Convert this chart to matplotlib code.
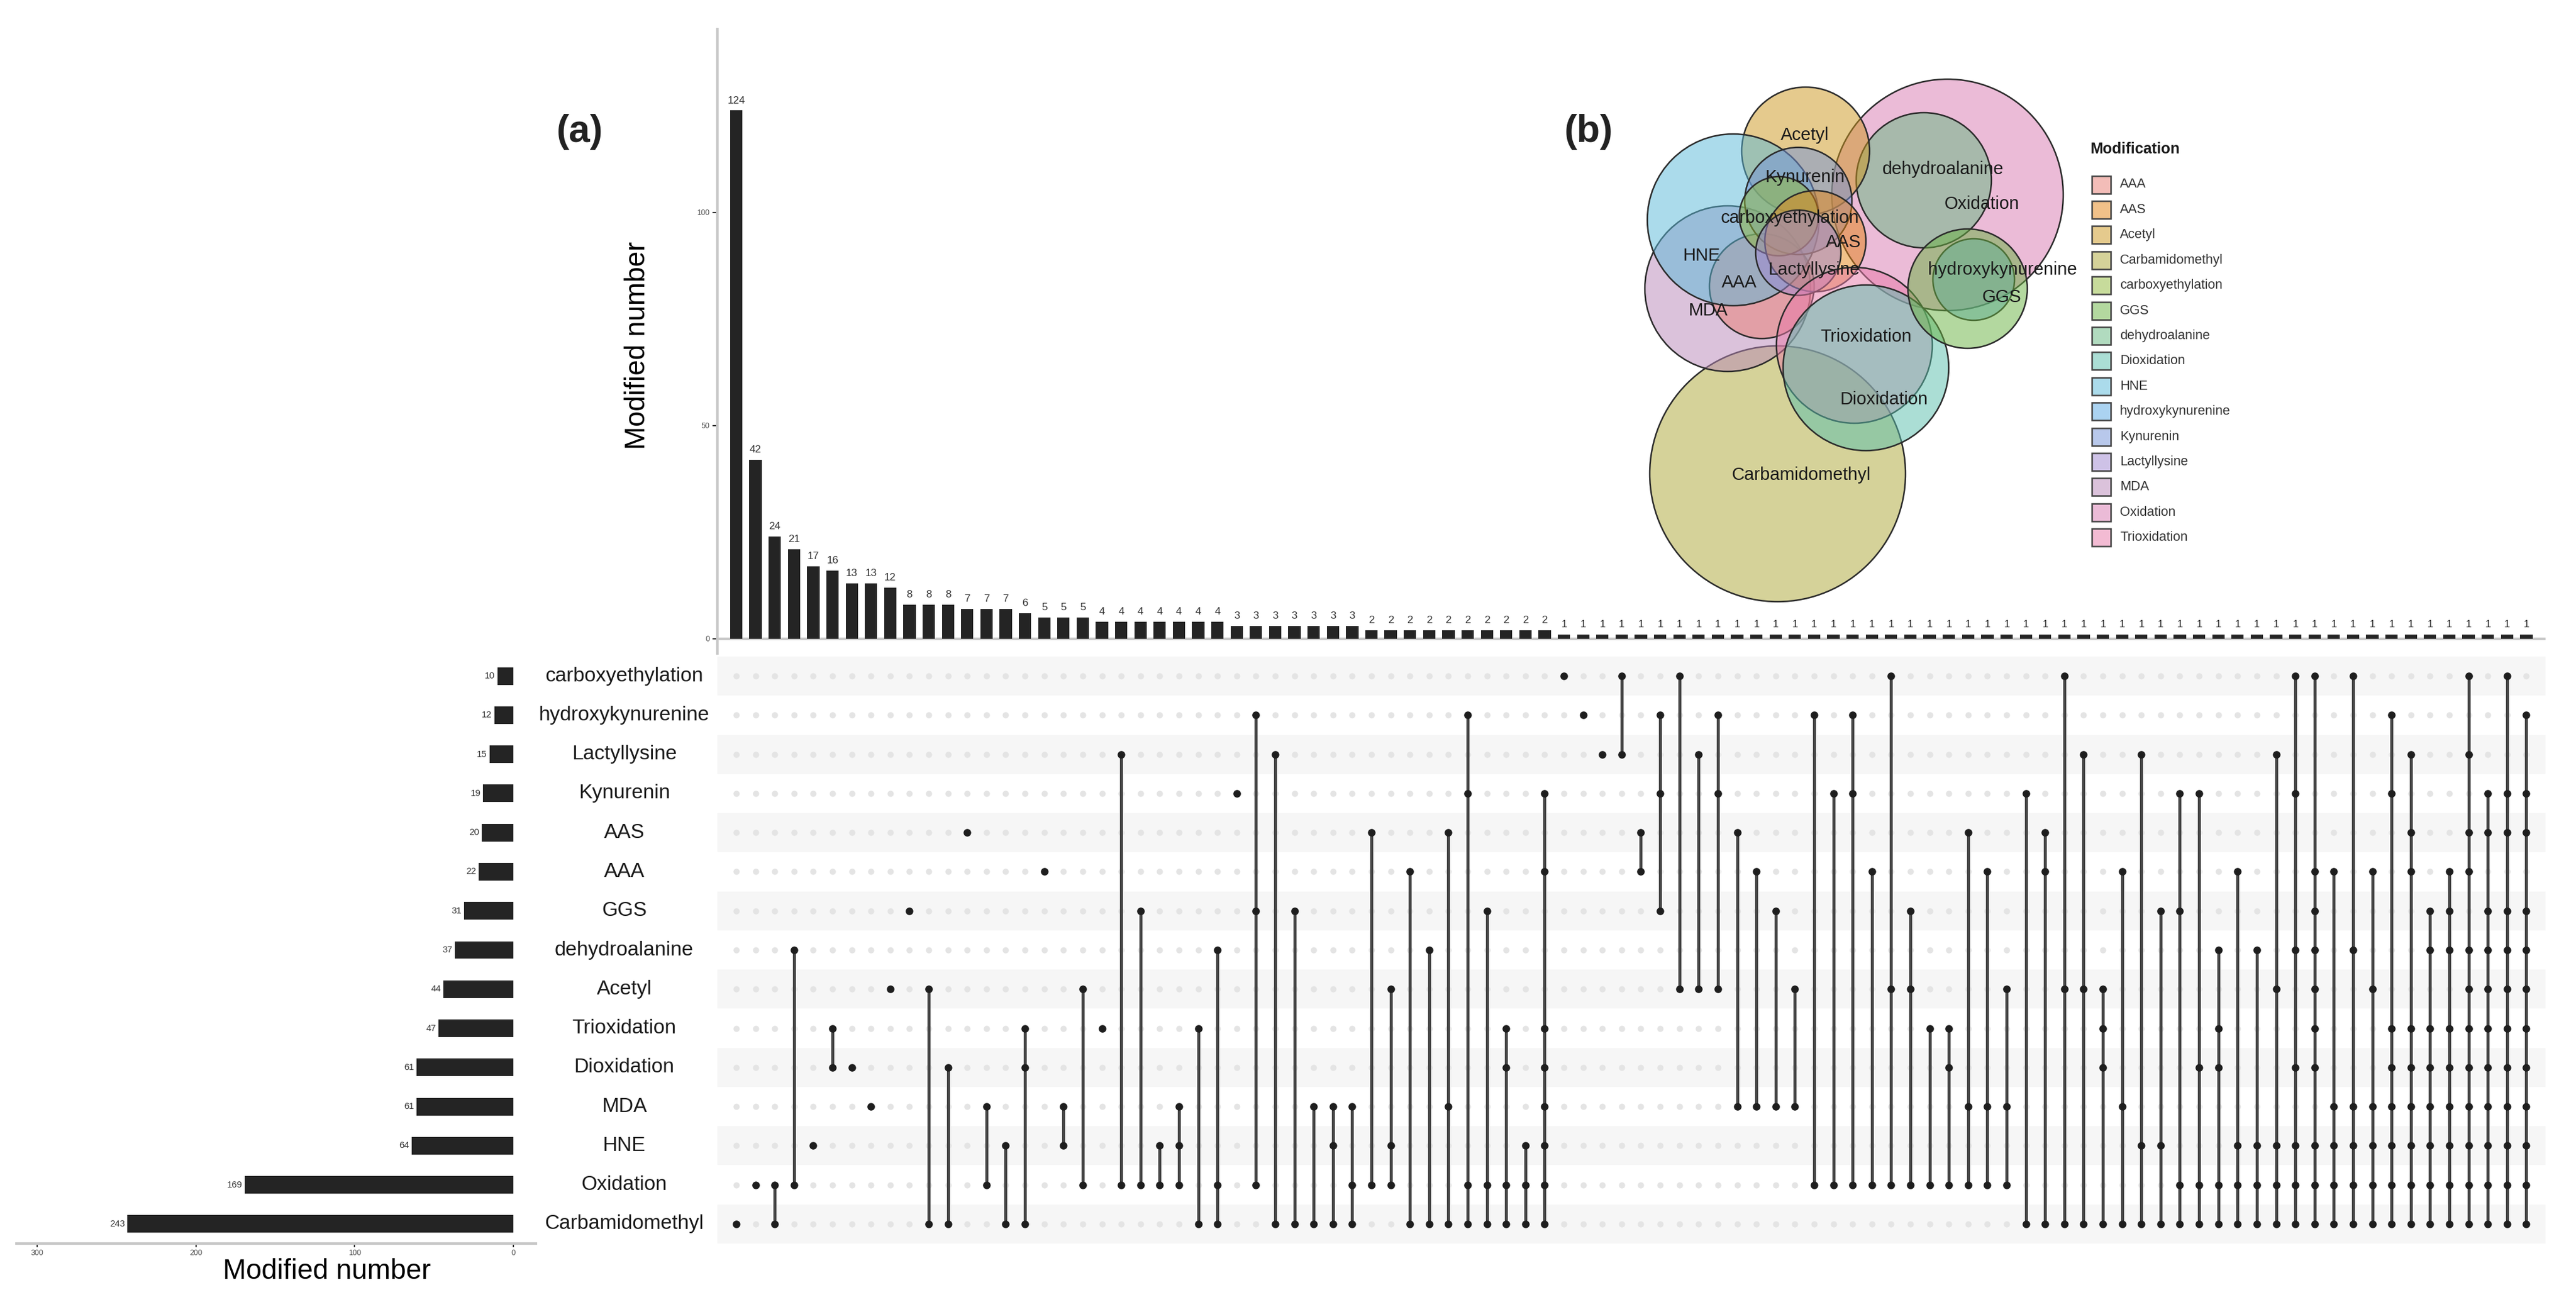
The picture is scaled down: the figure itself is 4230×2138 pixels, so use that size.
import matplotlib
matplotlib.use("Agg")
import matplotlib.pyplot as plt
import matplotlib.transforms as mtransforms
from matplotlib.patches import Circle, Rectangle
from matplotlib.colors import to_rgba

plt.rcParams['font.family'] = ['Liberation Sans', 'DejaVu Sans']

# ---------------------------------------------------------------------------
# data
# ---------------------------------------------------------------------------
# rows of the matrix, top to bottom
sets = ['carboxyethylation', 'hydroxykynurenine', 'Lactyllysine', 'Kynurenin',
        'AAS', 'AAA', 'GGS', 'dehydroalanine', 'Acetyl', 'Trioxidation',
        'Dioxidation', 'MDA', 'HNE', 'Oxidation', 'Carbamidomethyl']
set_sizes = [10, 12, 15, 19, 20, 22, 31, 37, 44, 47, 61, 61, 64, 169, 243]

# intersection sizes (left to right)
inter_counts = ([124, 42, 24, 21, 17, 16, 13, 13, 12, 8, 8, 8, 7, 7, 7, 6, 5, 5, 5]
                + [4] * 7 + [3] * 7 + [2] * 10 + [1] * 51)

# members of each intersection, as row indices into `sets`
inter_members = [
    [14], [13], [13, 14], [7, 13], [12], [9, 10], [10], [11], [8], [6],
    [8, 14], [10, 14], [4], [11, 13], [12, 14], [9, 10, 14], [5], [11, 12],
    [8, 13], [9], [2, 13], [6, 13], [12, 13], [11, 12, 13], [9, 14],
    [7, 13, 14], [3], [1, 6, 13], [2, 14], [6, 14], [11, 14], [11, 12, 14],
    [11, 13, 14], [4, 13], [8, 12, 13], [5, 14], [7, 14], [4, 11, 14],
    [1, 3, 13, 14], [6, 13, 14], [9, 10, 13, 14], [12, 13, 14],
    [3, 5, 9, 10, 11, 12, 13, 14],
    [0], [1], [2], [0, 2], [4, 5], [1, 3, 6], [0, 8], [2, 8], [1, 3, 8],
    [4, 11], [5, 11], [6, 11], [8, 11], [1, 13], [3, 13], [1, 3, 13], [5, 13],
    [0, 8, 13], [6, 8, 13], [9, 13], [9, 10, 13], [4, 11, 13], [5, 11, 13],
    [8, 11, 13], [3, 14], [4, 5, 14], [0, 8, 14], [2, 8, 14], [8, 9, 10, 14],
    [5, 11, 14], [2, 12, 14], [6, 12, 14], [3, 6, 13, 14], [3, 10, 13, 14],
    [7, 9, 10, 13, 14], [5, 12, 13, 14], [7, 12, 13, 14], [2, 8, 12, 13, 14],
    [0, 3, 7, 10, 12, 13, 14], [0, 5, 6, 7, 8, 9, 10, 12, 13, 14],
    [5, 11, 12, 13, 14], [0, 7, 11, 12, 13, 14], [5, 8, 11, 12, 13, 14],
    [1, 3, 9, 10, 11, 12, 13, 14], [2, 4, 5, 9, 10, 11, 12, 13, 14],
    [6, 7, 9, 10, 11, 12, 13, 14], [5, 6, 7, 9, 10, 11, 12, 13, 14],
    [0, 2, 4, 5, 7, 8, 9, 10, 11, 12, 13, 14],
    [3, 4, 6, 7, 8, 9, 10, 11, 12, 13, 14],
    [0, 3, 4, 6, 7, 8, 9, 10, 11, 12, 13, 14],
    [1, 3, 4, 6, 7, 8, 9, 10, 11, 12, 13, 14],
]

# legend of panel (b) (muted hue colours, drawn at alpha 0.5)
legend_names = ['AAA', 'AAS', 'Acetyl', 'Carbamidomethyl', 'carboxyethylation',
                'GGS', 'dehydroalanine', 'Dioxidation', 'HNE', 'hydroxykynurenine',
                'Kynurenin', 'Lactyllysine', 'MDA', 'Oxidation', 'Trioxidation']
legend_colors = ['#E97D73', '#E58515', '#CD971D', '#ADA735', '#91B939',
                 '#69B341', '#65B981', '#59BFAD', '#59B9D9', '#59A9E5',
                 '#7393D9', '#9F87D1', '#B987B9', '#D979B1', '#E979A9']

# euler circles of panel (b), in pixel coordinates of the figure (draw order)
venn_names = ['Carbamidomethyl', 'Oxidation', 'dehydroalanine', 'Acetyl', 'MDA',
              'AAA', 'HNE', 'Kynurenin', 'carboxyethylation', 'AAS',
              'Lactyllysine', 'Trioxidation', 'Dioxidation',
              'hydroxykynurenine', 'GGS']
venn_x = [2919, 3198, 3159, 2965, 2837, 2893, 2846, 2953, 2921, 2981, 2953, 3045, 3064, 3241, 3231]
venn_y = [778, 320, 296, 248, 474, 470, 361, 330, 355, 396, 415, 567, 604, 459, 474]
venn_r = [210, 190, 111, 105, 136, 86, 141, 88, 65, 83, 70, 128, 136, 67, 98]
# label positions
vlab_x = [2958, 3254, 3191, 2964, 2805, 2856, 2794, 2964, 2939, 3027, 2979, 3064, 3094, 3288, 3287]
vlab_y = [780, 335, 278, 222, 510, 464, 420, 291, 358, 398, 443, 553, 656, 443, 488]

# ---------------------------------------------------------------------------
W, H = 4230, 2138
fig = plt.figure(figsize=(W / 300, H / 300), dpi=300)


def px(x0, y0, x1, y1):
    return [x0 / W, 1 - y1 / H, (x1 - x0) / W, (y1 - y0) / H]


n_cols = len(inter_counts)
n_rows = len(sets)
cols = list(range(n_cols))
XLIM = (-0.98, 94.0)
gray_line = '#c8c8c8'

# --- top intersection bars -------------------------------------------------
ax_top = fig.add_axes(px(1178, 48, 4180, 1073))
ax_top.bar(cols, inter_counts, width=0.64, color='#242424', zorder=3)
for i, c in enumerate(inter_counts):
    ax_top.text(i, c + 1.2, str(c), ha='center', va='bottom', fontsize=4.2,
                color='#333333')
ax_top.axhline(0, color=gray_line, lw=1.0, zorder=2)
ax_top.set_xlim(*XLIM)
ax_top.set_ylim(-3.5, 143)
ax_top.set_xticks([])
ax_top.set_yticks([0, 50, 100])
ax_top.tick_params(axis='y', labelsize=3, labelcolor='#4d4d4d', length=2,
                   width=0.5, color='#333333', pad=1)
for s in ['top', 'right', 'bottom']:
    ax_top.spines[s].set_visible(False)
ax_top.spines['left'].set_color(gray_line)
ax_top.spines['left'].set_linewidth(1.0)
ax_top.patch.set_alpha(0)
fig.text(1047 / W, 1 - 567 / H, 'Modified number', rotation=90, ha='center',
         va='center', fontsize=11)

# --- matrix ----------------------------------------------------------------
ax_m = fig.add_axes(px(1178, 1078, 4180, 2042))
for r in range(0, n_rows, 2):
    ax_m.axhspan(r - 0.5, r + 0.5, color='#f6f6f6', lw=0, zorder=0)
ax_m.scatter([c for c in cols for _ in range(n_rows)],
             [r for _ in cols for r in range(n_rows)],
             s=6, color='#e4e4e4', lw=0, zorder=1)
for i, mem in enumerate(inter_members):
    if len(mem) > 1:
        ax_m.plot([i, i], [min(mem), max(mem)], color='#454545', lw=1.2,
                  zorder=2, solid_capstyle='butt')
    ax_m.scatter([i] * len(mem), mem, s=9, color='#1e1e1e', lw=0, zorder=3)
ax_m.set_xlim(*XLIM)
ax_m.set_ylim(n_rows - 0.5, -0.5)
ax_m.axis('off')

# set names
tr = mtransforms.blended_transform_factory(fig.transFigure, ax_m.transData)
for r, name in enumerate(sets):
    fig.text(1025 / W, r, name, transform=tr, ha='center', va='center',
             fontsize=8, color='#1a1a1a')

# --- set size bars ---------------------------------------------------------
ax_s = fig.add_axes(px(27, 1078, 880, 2042))
rows = list(range(n_rows))
ax_s.barh(rows, set_sizes, height=0.45, color='#242424')
for r, v in zip(rows, set_sizes):
    ax_s.text(v + 1.5, r, str(v), ha='right', va='center', fontsize=3.6,
              color='#333333')
ax_s.set_xlim(313, -14.2)
ax_s.set_ylim(n_rows - 0.5, -0.5)
ax_s.set_yticks([])
ax_s.set_xticks([300, 200, 100, 0])
ax_s.tick_params(axis='x', labelsize=3, labelcolor='#4d4d4d', length=1.5,
                 width=0.5, color='#333333', pad=1)
for s in ['top', 'right', 'left']:
    ax_s.spines[s].set_visible(False)
ax_s.spines['bottom'].set_color(gray_line)
ax_s.spines['bottom'].set_linewidth(1.0)
ax_s.patch.set_alpha(0)
fig.text(537 / W, 1 - 2088 / H, 'Modified number', ha='center', va='center',
         fontsize=11)

# --- panel (b): euler diagram + legend -------------------------------------
ax_v = fig.add_axes([0, 0, 1, 1])
ax_v.set_xlim(0, W)
ax_v.set_ylim(H, 0)
ax_v.axis('off')
ax_v.patch.set_alpha(0)

col_of = dict(zip(legend_names, legend_colors))
for name, x, y, rad in zip(venn_names, venn_x, venn_y, venn_r):
    ax_v.add_patch(Circle((x, y), rad, facecolor=to_rgba(col_of[name], 0.5),
                          edgecolor='#2b2b2b', lw=0.6))
for name, x, y in zip(venn_names, vlab_x, vlab_y):
    ax_v.text(x, y, name, ha='center', va='center', fontsize=7,
              color='#1a1a1a')

ax_v.text(3432, 245, 'Modification', ha='left', va='center', fontsize=6,
          fontweight='bold', color='#1a1a1a')
for i, (name, c) in enumerate(zip(legend_names, legend_colors)):
    yc = 303 + 41.4 * i
    ax_v.add_patch(Rectangle((3435, yc - 14.5), 31, 29,
                             facecolor=to_rgba(c, 0.5), edgecolor='#444444',
                             lw=0.6))
    ax_v.text(3481, yc, name, ha='left', va='center', fontsize=5.2,
              color='#333333')

ax_v.text(952, 216, '(a)', ha='center', va='center', fontsize=15,
          fontweight='bold', color='#222222')
ax_v.text(2609, 216, '(b)', ha='center', va='center', fontsize=15,
          fontweight='bold', color='#222222')

fig.savefig('out.png', dpi=300, facecolor='white')
